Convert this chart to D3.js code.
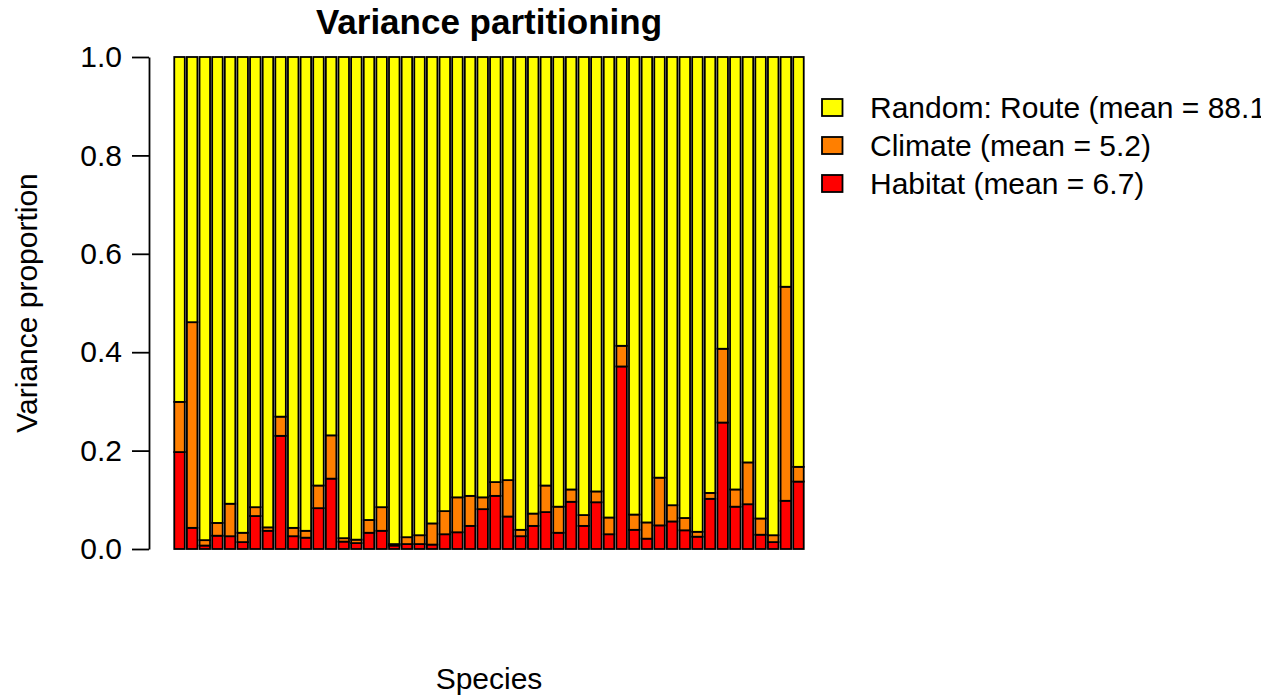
<!DOCTYPE html>
<html>
<head>
<meta charset="utf-8">
<script src="https://cdn.jsdelivr.net/npm/d3@7"></script>
<style>
  html, body { margin: 0; padding: 0; background: #ffffff; }
  svg { display: block; font-family: "Liberation Sans", Arial, Helvetica, sans-serif; }
</style>
</head>
<body>
<svg id="chart" width="1268" height="696"></svg>
<script>
// Variance proportions per species (stacked bottom to top: Habitat, Climate, Random: Route)
const habitat = [
  0.197, 0.043, 0.007, 0.027, 0.026, 0.014, 0.067, 0.037, 0.230, 0.026,
  0.023, 0.083, 0.143, 0.015, 0.012, 0.033, 0.037, 0.007, 0.010, 0.010,
  0.009, 0.030, 0.034, 0.047, 0.081, 0.108, 0.066, 0.026, 0.047, 0.075,
  0.033, 0.096, 0.047, 0.095, 0.030, 0.371, 0.039, 0.021, 0.048, 0.056,
  0.038, 0.025, 0.102, 0.257, 0.086, 0.091, 0.029, 0.014, 0.098, 0.137
];
const climate = [
  0.102, 0.418, 0.011, 0.026, 0.066, 0.019, 0.018, 0.007, 0.039, 0.017,
  0.014, 0.046, 0.088, 0.007, 0.007, 0.026, 0.048, 0.003, 0.014, 0.018,
  0.043, 0.047, 0.071, 0.061, 0.024, 0.028, 0.074, 0.013, 0.025, 0.054,
  0.053, 0.025, 0.022, 0.022, 0.034, 0.042, 0.031, 0.033, 0.097, 0.033,
  0.025, 0.010, 0.012, 0.150, 0.035, 0.085, 0.033, 0.014, 0.435, 0.030
];
const route = habitat.map((h, i) => +(1 - h - climate[i]).toFixed(3));

const seriesKeys = ["habitat", "climate", "route"];
const seriesColors = ["#FF0000", "#FF7F00", "#FFFF00"];
const legendLabels = ["Random: Route (mean = 88.1)", "Climate (mean = 5.2)", "Habitat (mean = 6.7)"];
const legendColors = ["#FFFF00", "#FF7F00", "#FF0000"];
const yTicks = [0, 0.2, 0.4, 0.6, 0.8, 1.0];

const species = habitat.map((_, i) => "sp" + (i + 1));
const rows = species.map((s, i) => ({ species: s, habitat: habitat[i], climate: climate[i], route: route[i] }));

const svg = d3.select("#chart");
const plot = { left: 149, right: 829, top: 57, bottom: 549 };
const baseFont = 30;

// drawing region for the legend (text running past it is clipped)
svg.append("defs").append("clipPath")
  .attr("id", "device-clip")
  .append("rect")
  .attr("x", 0).attr("y", 0)
  .attr("width", 1261).attr("height", 696);

const x = d3.scaleBand()
  .domain(species)
  .range([plot.left, plot.right])
  .paddingInner(1 / 6)
  .paddingOuter(2);

const y = d3.scaleLinear().domain([0, 1]).range([plot.bottom, plot.top]);

const stack = d3.stack().keys(seriesKeys)(rows);

// stacked bars
svg.append("g")
  .selectAll("g")
  .data(stack)
  .join("g")
  .attr("fill", (d, i) => seriesColors[i])
  .selectAll("rect")
  .data(d => d)
  .join("rect")
  .attr("x", d => x(d.data.species))
  .attr("width", x.bandwidth())
  .attr("y", d => y(d[1]))
  .attr("height", d => y(d[0]) - y(d[1]))
  .attr("stroke", "#000")
  .attr("stroke-width", 1.8);

// y axis
const yAxis = d3.axisLeft(y)
  .tickValues(yTicks)
  .tickFormat(d3.format(".1f"))
  .tickSize(17)
  .tickSizeOuter(0)
  .tickPadding(10);

const ya = svg.append("g")
  .attr("transform", `translate(${plot.left},0)`)
  .call(yAxis);
ya.select(".domain").attr("stroke", "#000").attr("stroke-width", 1.8);
ya.selectAll(".tick line").attr("stroke", "#000").attr("stroke-width", 1.8);
ya.selectAll(".tick text")
  .attr("fill", "#000")
  .attr("font-size", baseFont)
  .attr("font-family", "Liberation Sans, Arial, sans-serif");

// title
svg.append("text")
  .attr("x", (plot.left + plot.right) / 2)
  .attr("y", 34)
  .attr("text-anchor", "middle")
  .attr("font-size", 35)
  .attr("font-weight", "bold")
  .text("Variance partitioning");

// axis titles
svg.append("text")
  .attr("transform", `translate(37,${(plot.top + plot.bottom) / 2}) rotate(-90)`)
  .attr("text-anchor", "middle")
  .attr("font-size", baseFont)
  .text("Variance proportion");

svg.append("text")
  .attr("x", (plot.left + plot.right) / 2)
  .attr("y", 689)
  .attr("text-anchor", "middle")
  .attr("font-size", baseFont)
  .text("Species");

// legend
const legend = svg.append("g").attr("clip-path", "url(#device-clip)");
const legendY = d3.scalePoint().domain(legendLabels).range([107.5, 183.5]);
legendLabels.forEach((lab, i) => {
  const cy = legendY(lab);
  legend.append("rect")
    .attr("x", 822)
    .attr("y", cy - 8.5)
    .attr("width", 20.5)
    .attr("height", 17)
    .attr("fill", legendColors[i])
    .attr("stroke", "#000")
    .attr("stroke-width", 1.8);
  legend.append("text")
    .attr("x", 870)
    .attr("y", cy)
    .attr("dy", "0.36em")
    .attr("font-size", baseFont)
    .text(lab);
});
</script>
</body>
</html>
